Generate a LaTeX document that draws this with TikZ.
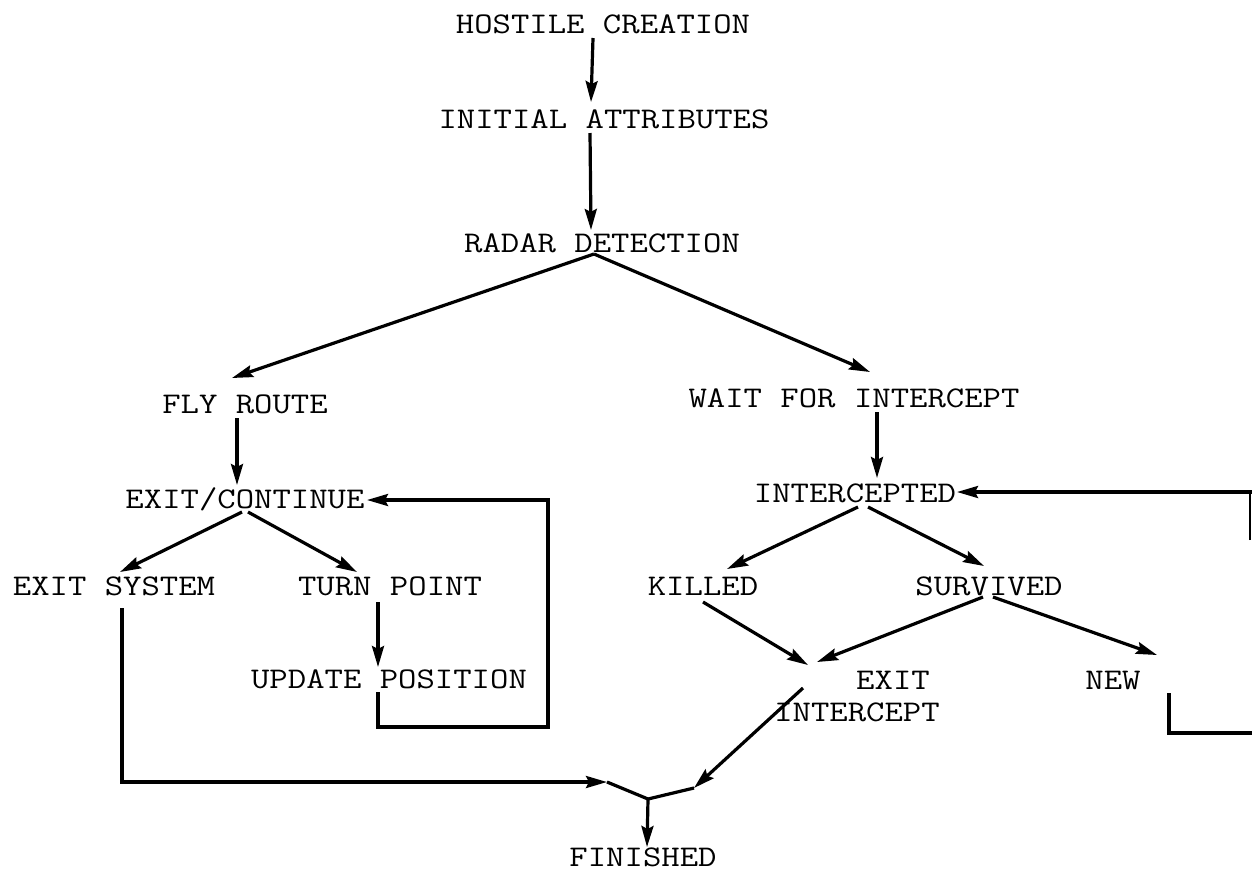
\documentclass[tikz,border=0pt]{standalone}
\usepackage{fontspec}
\usetikzlibrary{arrows.meta}
\newcommand{\tw}[1]{\scalebox{1}[0.84]{#1}}
\tikzset{
  lbl/.style={anchor=base,inner sep=0pt,font=\fontsize{35.7}{36}\ttfamily\addfontfeature{FakeBold=1.6}},
  ln/.style={line width=3.2pt,line join=miter},
  arr/.style={ln,-{Stealth[length=21pt,width=12pt,inset=3pt]}},
  thin/.style={line width=1.4pt}
}
\begin{document}
\begin{tikzpicture}[x=1pt,y=-1pt]
\useasboundingbox (0,0) rectangle (1252,879);
% labels
\node[lbl] (hc) at (603,33) {\tw{HOSTILE CREATION}};
\node[lbl] (ia) at (604,128) {\tw{INITIAL ATTRIBUTES}};
\node[lbl] (rd) at (602,252) {\tw{RADAR DETECTION}};
\node[lbl] (fr) at (245,413) {\tw{FLY ROUTE}};
\node[lbl] (wi) at (854,407) {\tw{WAIT FOR INTERCEPT}};
\node[lbl] (ec) at (245,508) {\tw{EXIT/CONTINUE}};
\node[lbl] (ic) at (855,502) {\tw{INTERCEPTED}};
\node[lbl] (es) at (114,595) {\tw{EXIT SYSTEM}};
\node[lbl] (tp) at (390,595) {\tw{TURN POINT}};
\node[lbl] (ki) at (703,595) {\tw{KILLED}};
\node[lbl] (sv) at (989,595) {\tw{SURVIVED}};
\node[lbl] (up) at (389,688) {\tw{UPDATE POSITION}};
\node[lbl] (ex) at (893,689) {\tw{EXIT}};
\node[lbl] (ei) at (857,721) {\tw{INTERCEPT}};
\node[lbl] (nw) at (1113,689) {\tw{NEW}};
\node[lbl] (fi) at (643,866) {\tw{FINISHED}};
% connector ends
\coordinate (hcS) at (593,38);  \coordinate (iaN) at (591,102);
\coordinate (iaS) at (590,133); \coordinate (rdN) at (591,230);
\coordinate (rdS) at (594,254);
\coordinate (frN) at (232,378); \coordinate (wiN) at (870,372);
\coordinate (frS) at (237,418); \coordinate (ecN) at (237,485);
\coordinate (wiS) at (877,412); \coordinate (icN) at (877,478);
\coordinate (ecSL) at (242,512); \coordinate (ecSR) at (248,512);
\coordinate (esN) at (120,572); \coordinate (tpN) at (357,572);
\coordinate (tpS) at (378,602); \coordinate (upN) at (378,667);
\coordinate (upS) at (378,692); \coordinate (ecE) at (367,500);
\coordinate (icSL) at (858,507); \coordinate (icSR) at (868,507);
\coordinate (kiN) at (727,569); \coordinate (svN) at (984,566);
\coordinate (kiS) at (703,602); \coordinate (svSL) at (983,597); \coordinate (svSR) at (993,597);
\coordinate (exA) at (808,665); \coordinate (exB) at (817,662);
\coordinate (nwN) at (1157,655);
\coordinate (nwS) at (1169,693);
\coordinate (icE) at (957,492);
\coordinate (eiO) at (803,688); \coordinate (jR) at (694,788);
\coordinate (esS) at (122,608); \coordinate (jL) at (607,782);
\coordinate (jM) at (648,799); \coordinate (fiN) at (647,847);
% connectors
\draw[arr] (hcS) -- (iaN);
\draw[arr] (iaS) -- (rdN);
\draw[arr] (rdS) -- (frN);
\draw[arr] (rdS) -- (wiN);
\draw[arr] (frS) -- (ecN);
\draw[arr] (wiS) -- (icN);
\draw[arr] (ecSL) -- (esN);
\draw[arr] (ecSR) -- (tpN);
\draw[arr] (tpS) -- (upN);
\draw[arr] (upS) -- (378,727) -- (548,727) -- (548,500) -- (ecE);
\draw[arr] (icSL) -- (kiN);
\draw[arr] (icSR) -- (svN);
\draw[arr] (kiS) -- (exA);
\draw[arr] (svSL) -- (exB);
\draw[arr] (svSR) -- (nwN);
\draw[ln] (nwS) -- (1169,733) -- (1252,733);
\draw[thin] (1250,540) -- (1250,492);
\draw[arr] (1252,492) -- (icE);
\draw[arr] (eiO) -- (jR);
\draw[ln] (jR) -- (jM);
\draw[arr] (esS) -- (122,782) -- (jL);
\draw[ln] (jL) -- (jM);
\draw[arr] (jM) -- (fiN);
\end{tikzpicture}
\end{document}
